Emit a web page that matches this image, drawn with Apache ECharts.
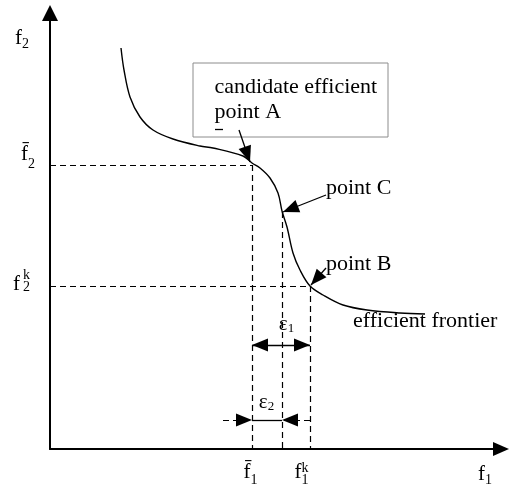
<!DOCTYPE html>
<html>
<head>
<meta charset="utf-8">
<script src="https://cdn.jsdelivr.net/npm/echarts@6/dist/echarts.min.js"></script>
<style>
  html, body { margin: 0; padding: 0; background: #fff; }
  #chart { width: 511px; height: 489px; }
</style>
</head>
<body>
<div id="chart"></div>
<script>
// efficient frontier, in f1 / f2 units (origin at the axes corner)
var frontierF1 = [71, 74, 80, 90, 103, 123, 150, 163, 193, 202, 210, 220, 228, 232, 237, 243, 250, 260, 273, 293, 317, 350, 375];
var frontierF2 = [401, 379, 352, 332, 319, 310, 303, 301, 293, 286, 281, 271, 256, 238, 222, 196, 179, 163, 154, 144, 139, 136, 135];

var pointA = [202, 284];
var pointB = [260, 163];
var pointC = [232, 237];

var xTicks = [pointA[0], pointB[0]];
var yTicks = [pointB[1], pointA[1]];

// epsilon brackets
var eps1Level = 104;
var eps2Level = 29;
var eps2Tails = [173, 260];

// callout box + arrows from the labels
var boxCorners = [[143, 386], [338, 312]];
var boxText = 'candidate efficient\npoint A';
var calloutA = [[189, 319], [200, 287]];
var calloutC = [[276, 254], [233, 237]];
var calloutB = [[276, 181], [261, 164]];
var strayDash = [[165, 320], [173, 320]];

var textLabels = [
  { name: 'point C', value: [276, 261] },
  { name: 'point B', value: [276, 185] },
  { name: 'efficient frontier', value: [303, 128] },
  { name: 'eps1', value: [236.5, 125] },
  { name: 'eps2', value: [216.5, 47] }
];

var FONT = 'Liberation Serif';

// rich tokens: all top aligned inside a 100px line, dy = offset of glyph centre from the anchor
function tok(size, dy, extra) {
  var s = {
    fontFamily: FONT, fontSize: size, lineHeight: size, color: '#000', align: 'left',
    verticalAlign: 'top', padding: [50 + dy - size / 2, 0, 0, 0]
  };
  return Object.assign(s, extra || {});
}
var rich = {
  h: { width: 0, lineHeight: 100, align: 'left' },
  g3: { width: 3, align: 'left' }, g5: { width: 5, align: 'left' },
  g17: { width: 17, align: 'left' }, g21: { width: 21, align: 'left' },
  ya: tok(21, -11), yb: tok(14, -1),
  yc: tok(21, -2), yk: tok(14, -11, { width: 0 }), yd: tok(14, 1),
  xa: tok(21, -26.5), xb: tok(14, -19), xk: tok(14, -31, { width: 0 }),
  na: tok(21, -3), nb: tok(14, 3),
  nc: tok(21, 25), nd: tok(14, 31),
  ea: tok(21, 0), eb: tok(13, 5)
};

var ARROW = [13, 16];
function arrowEnd(coord) {
  return { coord: coord, symbol: 'triangle', symbolSize: ARROW, symbolOffset: [0, ARROW[1] / 2] };
}
function plain(coord, style) {
  var o = { coord: coord, symbol: 'none' };
  if (style) o.lineStyle = style;
  return o;
}
var SOLID = { type: 'solid', width: 1.3 };

var guideLines = [
  [plain([0, pointA[1]]), plain(pointA)],
  [plain(pointA), plain([pointA[0], 0])],
  [plain(pointC), plain([pointC[0], 0])],
  [plain([0, pointB[1]]), plain(pointB)],
  [plain(pointB), plain([pointB[0], 0])],
  // callouts
  [plain(calloutA[0], SOLID), arrowEnd(calloutA[1])],
  [plain(calloutC[0], SOLID), arrowEnd(calloutC[1])],
  [plain(calloutB[0], SOLID), arrowEnd(calloutB[1])],
  [plain(strayDash[0], SOLID), plain(strayDash[1])],
  // epsilon 1: double arrow between f1bar and f1k
  [Object.assign(arrowEnd([pointA[0], eps1Level]), { lineStyle: SOLID }), arrowEnd([pointB[0], eps1Level])],
  // epsilon 2
  [plain([eps2Tails[0], eps2Level]), arrowEnd([pointA[0], eps2Level])],
  [plain([pointA[0], eps2Level], SOLID), plain([pointC[0], eps2Level])],
  [plain([eps2Tails[1], eps2Level]), arrowEnd([pointC[0], eps2Level])]
];

var chart = echarts.init(document.getElementById('chart'));
chart.setOption({
  animation: false,
  backgroundColor: '#fff',
  textStyle: { fontFamily: FONT },
  grid: { left: 50, right: 10, top: 13, bottom: 40, containLabel: false, outerBoundsMode: 'none' },
  xAxis: {
    type: 'value', min: 0, max: 451,
    splitLine: { show: false },
    axisTick: { show: false },
    axisLine: {
      show: true, onZero: false, symbol: ['none', 'triangle'], symbolSize: [14, 16],
      lineStyle: { color: '#000', width: 2 }
    },
    axisLabel: {
      customValues: xTicks, margin: 0, rich: rich,
      formatter: function (v) {
        return v === pointA[0] ? '{h|}{xa|f\u0304}{xb|1}{g3|}' : '{h|}{xa|f}{xk|k}{xb|1}{g17|}';
      }
    },
    name: '{h|}{nc|f}{nd|1}', nameLocation: 'end', nameGap: -23, nameMoveOverlap: false,
    nameTextStyle: { align: 'left', verticalAlign: 'middle', rich: rich }
  },
  yAxis: {
    type: 'value', min: 0, max: 436,
    splitLine: { show: false },
    axisTick: { show: false },
    axisLine: {
      show: true, onZero: false, symbol: ['none', 'triangle'], symbolSize: [16, 16],
      lineStyle: { color: '#000', width: 2 }
    },
    axisLabel: {
      customValues: yTicks, margin: 15, rich: rich,
      formatter: function (v) {
        return v === pointA[1] ? '{h|}{ya|f\u0304}{yb|2}' : '{h|}{yc|f}{g3|}{yk|k}{yd|2}{g5|}';
      }
    },
    name: '{h|}{na|f}{nb|2}{g21|}', nameLocation: 'end', nameGap: -28, nameMoveOverlap: false,
    nameTextStyle: { align: 'right', verticalAlign: 'middle', rich: rich }
  },
  series: [
    {
      type: 'line',
      name: 'efficient frontier',
      data: frontierF1.map(function (x, i) { return [x, frontierF2[i]]; }),
      smooth: 0.35,
      symbol: 'none',
      color: '#000',
      lineStyle: { color: '#000', width: 1.4 },
      silent: true,
      z: 3,
      markLine: {
        silent: true,
        symbol: ['none', 'none'],
        label: { show: false },
        itemStyle: { color: '#000' },
        lineStyle: { color: '#000', width: 1.2, type: [6, 4] },
        emphasis: { disabled: true },
        data: guideLines
      },
      markArea: {
        silent: true,
        itemStyle: { color: 'rgba(255,255,255,0)', borderColor: '#8c8c8c', borderWidth: 1 },
        label: {
          show: true, position: 'insideTopLeft', distance: 5,
          padding: [7, 0, 0, 17],
          color: '#000', fontFamily: FONT, fontSize: 22, lineHeight: 25
        },
        data: [[{ name: boxText, coord: boxCorners[0] }, { coord: boxCorners[1] }]]
      }
    },
    {
      type: 'scatter',
      data: textLabels.map(function (d) {
        if (d.name.indexOf('eps') === 0) {
          return { name: d.name, value: d.value, label: { position: 'inside', align: 'center' } };
        }
        return d;
      }),
      symbolSize: 0,
      silent: true,
      itemStyle: { opacity: 1 },
      label: {
        show: true, position: 'right', distance: 0,
        color: '#000', fontFamily: FONT, fontSize: 22, rich: rich,
        formatter: function (p) {
          if (p.name === 'eps1') return '{h|}{ea|\u03b5}{eb|1}';
          if (p.name === 'eps2') return '{h|}{ea|\u03b5}{eb|2}';
          return p.name;
        }
      }
    }
  ]
});
</script>
</body>
</html>
